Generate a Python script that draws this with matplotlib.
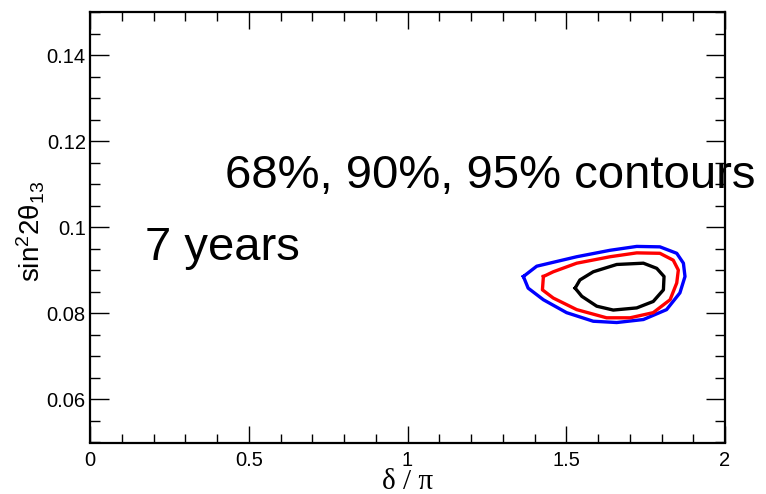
import matplotlib
matplotlib.use("Agg")
import matplotlib.pyplot as plt
from matplotlib.ticker import MultipleLocator

plt.rcParams['font.family'] = ['Liberation Sans', 'DejaVu Sans']
plt.rcParams['mathtext.fontset'] = 'custom'
plt.rcParams['mathtext.rm'] = 'Liberation Sans'
plt.rcParams['mathtext.it'] = 'Liberation Sans'

# contour vertices (delta/pi, sin^2 2theta13)
c95_x = [1.365, 1.407, 1.533, 1.638, 1.722, 1.795, 1.848, 1.869, 1.874, 1.858,
         1.816, 1.743, 1.659, 1.585, 1.501, 1.428, 1.380, 1.365]
c95_y = [0.0886, 0.0910, 0.0932, 0.0947, 0.0956, 0.0955, 0.0940, 0.0917, 0.0886, 0.0848,
         0.0809, 0.0786, 0.0779, 0.0782, 0.0802, 0.0832, 0.0859, 0.0886]
c90_x = [1.428, 1.459, 1.533, 1.638, 1.722, 1.795, 1.837, 1.853, 1.848, 1.827,
         1.774, 1.701, 1.627, 1.533, 1.459, 1.425, 1.428]
c90_y = [0.0886, 0.0897, 0.0917, 0.0932, 0.0941, 0.0940, 0.0924, 0.0901, 0.0871, 0.0832,
         0.0802, 0.0790, 0.0790, 0.0809, 0.0836, 0.0855, 0.0886]
c68_x = [1.528, 1.543, 1.585, 1.659, 1.743, 1.785, 1.808, 1.806, 1.774, 1.722,
         1.648, 1.596, 1.549, 1.528]
c68_y = [0.0859, 0.0878, 0.0897, 0.0914, 0.0917, 0.0905, 0.0886, 0.0855, 0.0828, 0.0813,
         0.0808, 0.0817, 0.0840, 0.0859]

title_text = "68%, 90%, 95% contours"
period_text = "7 years"

fig = plt.figure(figsize=(7.66, 4.94), dpi=100)
ax = fig.add_axes([90/766, 1 - 442.5/494, 635/766, 430/494])

ax.plot(c95_x, c95_y, color=(0, 0, 1), lw=2.4)
ax.plot(c90_x, c90_y, color=(1, 0, 0), lw=2.4)
ax.plot(c68_x, c68_y, color='black', lw=2.4)

ax.set_xlim(0, 2)
ax.set_ylim(0.05, 0.15)
ax.xaxis.set_major_locator(MultipleLocator(0.5))
ax.xaxis.set_minor_locator(MultipleLocator(0.1))
ax.yaxis.set_major_locator(MultipleLocator(0.02))
ax.yaxis.set_minor_locator(MultipleLocator(0.005))
ax.set_xticks([0, 0.5, 1, 1.5, 2])
ax.set_xticklabels(['0', '0.5', '1', '1.5', '2'])
ax.set_yticks([0.06, 0.08, 0.1, 0.12, 0.14])
ax.set_yticklabels(['0.06', '0.08', '0.1', '0.12', '0.14'])

ax.tick_params(axis='both', which='both', direction='in', top=True, right=True,
               labelsize=14.5, width=1.0, color='black')
ax.tick_params(axis='y', which='major', length=13.5, pad=3)
ax.tick_params(axis='y', which='minor', length=7.5)
ax.tick_params(axis='x', which='major', length=12, pad=6)
ax.tick_params(axis='x', which='minor', length=6.5)
for s in ax.spines.values():
    s.set_linewidth(1.6)

ax.set_xlabel("δ / π", fontsize=21, family=['Liberation Serif', 'DejaVu Serif'])
ax.xaxis.set_label_coords(0.5, -0.062)
ax.set_ylabel(r'$\mathregular{sin^{2}2\theta_{13}}$', fontsize=20)
ax.yaxis.set_label_coords(-0.068, 0.49)

ax.text(0.425, 0.1093, title_text, fontsize=34, va='baseline', ha='left', clip_on=False, zorder=1)
ax.text(0.173, 0.0924, period_text, fontsize=34, va='baseline', ha='left', clip_on=False, zorder=1)

fig.savefig("out.png", dpi=100)
